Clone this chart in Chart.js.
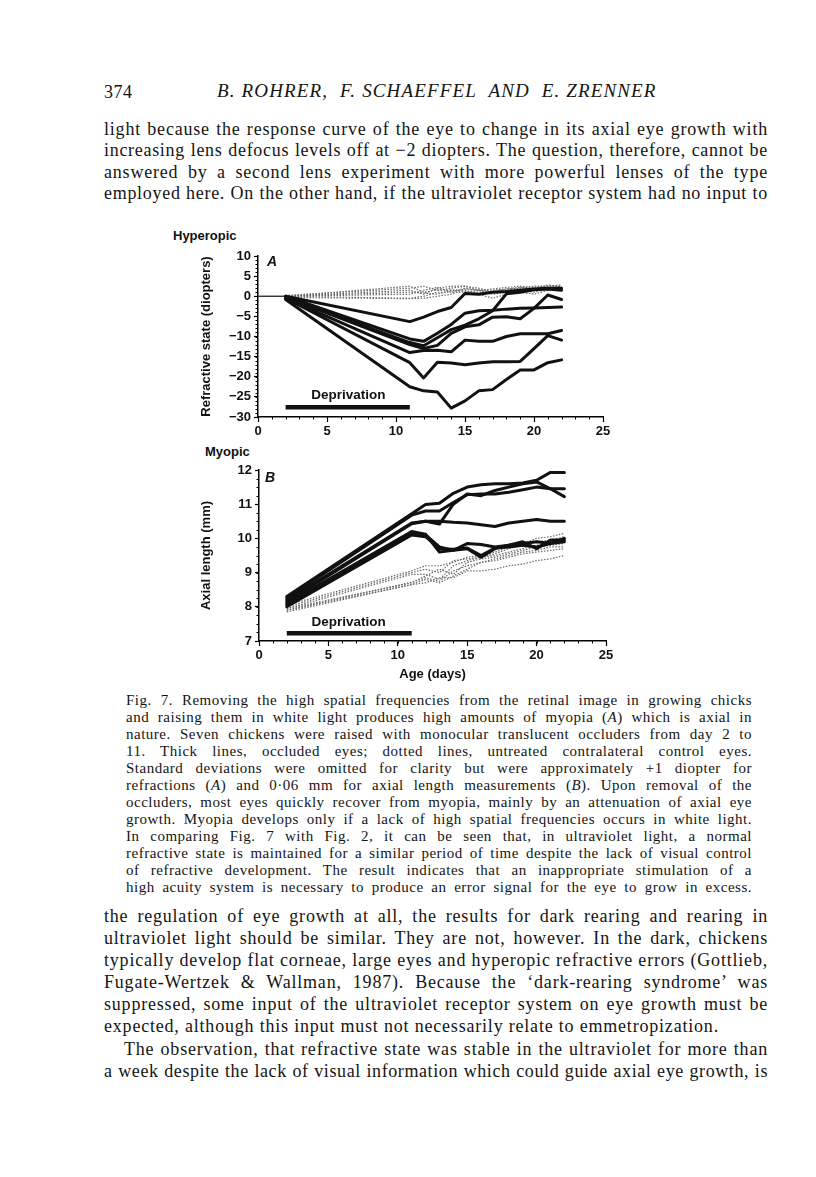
<!DOCTYPE html>
<html><head><meta charset="utf-8">
<script src="https://cdn.jsdelivr.net/npm/chart.js@4.4.1/dist/chart.umd.min.js"></script>
<style>
html,body{margin:0;padding:0;background:#fff;}
body{width:816px;height:1177px;position:relative;overflow:hidden;color:#141414;font-family:"Liberation Serif","Times New Roman",serif;}
.t{position:absolute;white-space:nowrap;text-align:justify;text-align-last:justify;}
.b{left:104px;width:664px;font-size:18px;line-height:22px;height:22px;letter-spacing:0.8px;}
.c{left:126px;width:626px;font-size:15px;line-height:17px;height:17px;letter-spacing:0.5px;}
.sans{position:absolute;font-family:"Liberation Sans",Arial,sans-serif;font-size:13px;font-weight:bold;color:#111;white-space:nowrap;line-height:16px;}
canvas{position:absolute;}
</style></head><body>

<div style="position:absolute;left:104px;top:81px;font-size:18px;line-height:22px;letter-spacing:0.5px;">374</div>
<div style="position:absolute;left:217px;top:80px;font-size:19px;line-height:22px;font-style:italic;letter-spacing:1.15px;white-space:nowrap;">B. ROHRER, &nbsp;F. SCHAEFFEL &nbsp;AND &nbsp;E. ZRENNER</div>

<div class="t b" style="top:118px">light because the response curve of the eye to change in its axial eye growth with</div>
<div class="t b" style="top:139px">increasing lens defocus levels off at &minus;2 diopters. The question, therefore, cannot be</div>
<div class="t b" style="top:161px">answered by a second lens experiment with more powerful lenses of the type</div>
<div class="t b" style="top:182px">employed here. On the other hand, if the ultraviolet receptor system had no input to</div>

<div class="sans" style="left:173px;top:228px;">Hyperopic</div>
<canvas id="chartA" width="470" height="200" style="left:150px;top:240px;"></canvas>
<div class="sans" style="left:205px;top:444px;">Myopic</div>
<canvas id="chartB" width="470" height="230" style="left:150px;top:455px;"></canvas>

<div class="t c" style="top:692px">Fig. 7. Removing the high spatial frequencies from the retinal image in growing chicks</div>
<div class="t c" style="top:709px">and raising them in white light produces high amounts of myopia (<i>A</i>) which is axial in</div>
<div class="t c" style="top:726px">nature. Seven chickens were raised with monocular translucent occluders from day 2 to</div>
<div class="t c" style="top:743px">11. Thick lines, occluded eyes; dotted lines, untreated contralateral control eyes.</div>
<div class="t c" style="top:760px">Standard deviations were omitted for clarity but were approximately +1 diopter for</div>
<div class="t c" style="top:777px">refractions (<i>A</i>) and 0·06 mm for axial length measurements (<i>B</i>). Upon removal of the</div>
<div class="t c" style="top:794px">occluders, most eyes quickly recover from myopia, mainly by an attenuation of axial eye</div>
<div class="t c" style="top:811px">growth. Myopia develops only if a lack of high spatial frequencies occurs in white light.</div>
<div class="t c" style="top:828px">In comparing Fig. 7 with Fig. 2, it can be seen that, in ultraviolet light, a normal</div>
<div class="t c" style="top:845px">refractive state is maintained for a similar period of time despite the lack of visual control</div>
<div class="t c" style="top:862px">of refractive development. The result indicates that an inappropriate stimulation of a</div>
<div class="t c" style="top:879px">high acuity system is necessary to produce an error signal for the eye to grow in excess.</div>

<div class="t b" style="top:905px">the regulation of eye growth at all, the results for dark rearing and rearing in</div>
<div class="t b" style="top:927px">ultraviolet light should be similar. They are not, however. In the dark, chickens</div>
<div class="t b" style="top:949px">typically develop flat corneae, large eyes and hyperopic refractive errors (Gottlieb,</div>
<div class="t b" style="top:971px">Fugate-Wertzek &amp; Wallman, 1987). Because the &lsquo;dark-rearing syndrome&rsquo; was</div>
<div class="t b" style="top:993px">suppressed, some input of the ultraviolet receptor system on eye growth must be</div>
<div class="t b" style="top:1015px;text-align:left;text-align-last:left;">expected, although this input must not necessarily relate to emmetropization.</div>
<div class="t b" style="top:1038px;left:124px;width:644px;">The observation, that refractive state was stable in the ultraviolet for more than</div>
<div class="t b" style="top:1060px">a week despite the lack of visual information which could guide axial eye growth, is</div>

<script>
// ---------- data ----------
const days = [2, 11, 12, 13, 14, 15, 16, 17, 18, 19, 20, 21, 22];
const xTicks = [0, 5, 10, 15, 20, 25];
const yTicksA = [10, 5, 0, -5, -10, -15, -20, -25, -30];
const yTicksB = [7, 8, 9, 10, 11, 12];
const baseDays = [0, 2];
const baseVals = [0, 0];
const deprivDays = [2, 11];
const deprivA = [-27.6, -27.6];
const deprivB = [7.23, 7.23];
const labelPosA = [6.55, -24.5];
const labelPosB = [6.45, 7.56];

// Panel A: refractive state (diopters), occluded eyes
const occA1 = [0, -6.3, -5.2, -3.8, -2.8, 0.7, 0.5, 1.0, 1.2, 1.5, 1.8, 2.0, 2.0];
const occA2 = [0, -10.6, -11.2, -9.2, -7.0, -4.2, -3.6, -3.5, -3.2, -3.0, -2.9, -2.8, -2.7];
const occA3 = [-0.3, -12.0, -13.0, -12.2, -9.2, -7.6, -7.1, -5.2, -5.1, -5.6, -3.0, 0.3, -0.8];
const occA4 = [-0.2, -11.5, -12.3, -10.3, -8.3, -7.2, -5.6, -3.6, 0.6, 1.0, 1.6, 1.8, 1.5];
const occA5 = [-0.5, -14.0, -13.5, -13.4, -13.8, -10.9, -11.2, -11.2, -10.0, -9.3, -9.3, -9.3, -8.5];
const occA6 = [-0.5, -16.5, -20.3, -16.4, -16.6, -17.0, -16.6, -16.3, -16.3, -16.2, -13.0, -9.8, -10.9];
const occA7 = [-0.8, -22.5, -23.5, -23.8, -27.8, -26.0, -23.5, -23.2, -20.7, -18.3, -18.3, -16.5, -15.8];
// Panel A: control eyes
const ctlA1 = [0, 2.5, 1.0, 1.5, 2.0, 2.5, 1.5, 1.5, 1.8, 2.0, 2.5, 2.5, 2.5];
const ctlA2 = [0, 1.5, 0.5, 2.0, 2.5, 2.5, 2.0, 1.0, 1.5, 2.0, 2.0, 2.8, 2.3];
const ctlA3 = [0, 1.0, 0.8, 0.5, 1.5, 1.5, 0.5, -0.5, 0.5, 1.0, 0.5, 1.5, 1.8];
const ctlA4 = [0, -0.5, 0.0, 1.0, 1.0, 1.0, 1.5, 1.0, 1.2, 1.5, 1.0, 2.0, 2.0];
const ctlA5 = [0, 0.5, 1.5, 2.2, 1.0, 2.0, 1.5, 1.8, 2.2, 2.5, 2.2, 2.5, 2.8];
const ctlA6 = [-0.3, -0.6, -0.5, 0.0, 0.5, 1.8, 1.5, 0.5, 1.0, 1.5, 1.5, 1.8, 1.5];
const ctlA7 = [0.2, 2.0, 2.5, 1.5, 1.5, 1.2, 1.0, 1.2, 1.8, 2.2, 1.8, 2.2, 2.0];

// Panel B: axial length (mm), occluded eyes
const occB1 = [8.3, 10.72, 10.99, 11.03, 11.32, 11.5, 11.57, 11.6, 11.6, 11.62, 11.7, 11.93, 11.93];
const occB2 = [8.25, 10.68, 10.8, 10.8, 11.05, 11.28, 11.3, 11.3, 11.35, 11.42, 11.5, 11.45, 11.45];
const occB3 = [8.2, 10.45, 10.5, 10.42, 11.0, 11.3, 11.25, 11.4, 11.5, 11.6, 11.65, 11.45, 11.22];
const occB4 = [8.15, 10.43, 10.5, 10.5, 10.47, 10.45, 10.4, 10.35, 10.45, 10.5, 10.55, 10.5, 10.5];
const occB5 = [8.1, 10.2, 10.12, 9.6, 9.65, 9.85, 9.82, 9.75, 9.8, 9.9, 9.7, 9.95, 9.95];
const occB6 = [8.05, 10.15, 10.1, 9.75, 9.65, 9.7, 9.45, 9.7, 9.8, 9.85, 9.9, 9.85, 9.9];
const occB7 = [8.0, 10.1, 10.05, 9.7, 9.68, 9.72, 9.5, 9.72, 9.75, 9.8, 9.75, 9.85, 10.0];
// Panel B: control eyes
const ctlB1 = [8.05, 9.05, 9.2, 9.2, 9.3, 9.45, 9.5, 9.6, 9.75, 9.85, 10.0, 10.05, 10.15];
const ctlB2 = [8.0, 9.0, 9.1, 9.0, 9.35, 9.4, 9.45, 9.55, 9.7, 9.8, 9.9, 9.95, 10.05];
const ctlB3 = [7.95, 8.95, 8.95, 8.8, 9.2, 9.35, 9.45, 9.5, 9.6, 9.7, 9.8, 9.85, 9.95];
const ctlB4 = [7.9, 8.72, 8.9, 9.1, 8.95, 9.3, 9.4, 9.45, 9.55, 9.65, 9.75, 9.8, 9.85];
const ctlB5 = [7.95, 8.7, 8.85, 8.75, 9.05, 9.2, 9.3, 9.4, 9.5, 9.6, 9.65, 9.75, 9.75];
const ctlB6 = [7.9, 8.65, 8.8, 8.7, 8.9, 9.1, 9.3, 9.35, 9.45, 9.55, 9.6, 9.65, 9.7];
const ctlB7 = [7.85, 8.65, 8.7, 8.85, 8.85, 9.05, 9.05, 9.1, 9.2, 9.25, 9.35, 9.4, 9.5];

// ---------- fit justified text lines ----------
function fitLines() {
  document.querySelectorAll('.t').forEach(el => {
    let ls = parseFloat(getComputedStyle(el).letterSpacing) || 0;
    let guard = 0;
    while (el.scrollWidth > el.clientWidth + 0.5 && guard < 40) {
      ls -= 0.1; el.style.letterSpacing = ls.toFixed(2) + 'px'; guard++;
    }
  });
}
fitLines();
if (document.fonts && document.fonts.ready) document.fonts.ready.then(fitLines);

// ---------- helpers ----------
const SANS = '"Liberation Sans", Arial, sans-serif';
const pts = (xs, ys) => xs.map((x, i) => ({x: x, y: ys[i]}));
const minus = v => (v < 0 ? '\u2212' + Math.abs(v) : String(v));

function occ(vals) {
  return {data: pts(days, vals), borderColor: '#111', borderWidth: 3, pointRadius: 0, tension: 0,
          borderJoinStyle: 'round', borderCapStyle: 'round', fill: false};
}
function ctl(vals) {
  return {data: pts(days, vals), borderColor: '#6a6a6a', borderWidth: 1.2, borderDash: [1.5, 1.5],
          pointRadius: 0, tension: 0, fill: false};
}
function bar(xs, ys) {
  return {data: pts(xs, ys), borderColor: '#111', borderWidth: 4.5, pointRadius: 0, borderCapStyle: 'butt', fill: false};
}

const annot = {
  id: 'annot',
  afterDraw(chart, args, o) {
    const {ctx} = chart; const x = chart.scales.x, y = chart.scales.y;
    ctx.save();
    ctx.strokeStyle = '#000'; ctx.lineWidth = 1;
    for (let v = x.min; v <= x.max + 1e-9; v += o.xMinor) {
      const p = Math.round(x.getPixelForValue(v)) + 0.5;
      ctx.beginPath(); ctx.moveTo(p, y.bottom); ctx.lineTo(p, y.bottom + 2.5); ctx.stroke();
    }
    for (let v = y.min; v <= y.max + 1e-9; v += o.yMinor) {
      const p = Math.round(y.getPixelForValue(v)) + 0.5;
      ctx.beginPath(); ctx.moveTo(x.left, p); ctx.lineTo(x.left - 2.5, p); ctx.stroke();
    }
    ctx.fillStyle = '#111'; ctx.textAlign = 'center'; ctx.textBaseline = 'middle';
    ctx.font = 'bold 13.5px ' + SANS;
    ctx.fillText(o.text, x.getPixelForValue(o.pos[0]), y.getPixelForValue(o.pos[1]));
    ctx.font = 'italic bold 14px ' + SANS;
    ctx.fillText(o.panel, x.left + o.panelOff[0], y.top + o.panelOff[1]);
    ctx.restore();
  }
};

function scalesFor(yMin, yMax, yTicks, yTitle, yWidth, xHeight, xTitle) {
  const tickFont = {family: SANS, size: 13, weight: 'bold'};
  const titleFont = {family: SANS, size: 13, weight: 'bold'};
  const grid = {display: true, drawOnChartArea: false, drawTicks: true, tickLength: 4, tickColor: '#000', tickWidth: 1.2};
  return {
    x: {type: 'linear', min: 0, max: 25,
        afterBuildTicks: s => { s.ticks = xTicks.map(v => ({value: v})); },
        ticks: {font: tickFont, color: '#111', padding: 2, maxRotation: 0, autoSkip: false},
        grid: Object.assign({}, grid, {tickLength: 5}),
        border: {display: true, color: '#000', width: 1.5},
        title: xTitle ? {display: true, text: xTitle, color: '#111', font: titleFont, padding: {top: 0, bottom: 3}} : {display: false},
        afterFit: s => { s.height = xHeight; }},
    y: {type: 'linear', min: yMin, max: yMax,
        afterBuildTicks: s => { s.ticks = yTicks.map(v => ({value: v})); },
        ticks: {font: tickFont, color: '#111', padding: 3, autoSkip: false, callback: v => minus(v)},
        grid: grid,
        border: {display: true, color: '#000', width: 1.5},
        title: {display: true, text: yTitle, color: '#111', font: titleFont, padding: 0},
        afterFit: s => { s.width = yWidth; }}
  };
}

const common = {responsive: false, animation: false, devicePixelRatio: 1,
  plugins: {legend: {display: false}, tooltip: {enabled: false}}};

new Chart(document.getElementById('chartA'), {
  type: 'line',
  data: {datasets: [
    occ(occA1), occ(occA2), occ(occA3), occ(occA4), occ(occA5), occ(occA6), occ(occA7),
    bar(deprivDays, deprivA),
    {data: pts(baseDays, baseVals), borderColor: '#222', borderWidth: 1.3, pointRadius: 0},
    ctl(ctlA1), ctl(ctlA2), ctl(ctlA3), ctl(ctlA4), ctl(ctlA5), ctl(ctlA6), ctl(ctlA7)
  ]},
  options: Object.assign({}, common, {
    layout: {padding: {left: 49, right: 17, top: 16, bottom: 0}},
    scales: scalesFor(-30, 10, yTicksA, 'Refractive state (diopters)', 59, 23, null),
    plugins: Object.assign({}, common.plugins, {annot: {xMinor: 1, yMinor: 1, text: 'Deprivation', pos: labelPosA, panel: 'A', panelOff: [14, 6]}})
  }),
  plugins: [annot]
});

new Chart(document.getElementById('chartB'), {
  type: 'line',
  data: {datasets: [
    occ(occB1), occ(occB2), occ(occB3), occ(occB4), occ(occB5), occ(occB6), occ(occB7),
    bar(deprivDays, deprivB),
    ctl(ctlB1), ctl(ctlB2), ctl(ctlB3), ctl(ctlB4), ctl(ctlB5), ctl(ctlB6), ctl(ctlB7)
  ]},
  options: Object.assign({}, common, {
    layout: {padding: {left: 49, right: 14, top: 15, bottom: 0}},
    scales: scalesFor(7, 12, yTicksB, 'Axial length (mm)', 60, 44, 'Age (days)'),
    plugins: Object.assign({}, common.plugins, {annot: {xMinor: 1, yMinor: 0.25, text: 'Deprivation', pos: labelPosB, panel: 'B', panelOff: [11, 8]}})
  }),
  plugins: [annot]
});
</script>
</body></html>
